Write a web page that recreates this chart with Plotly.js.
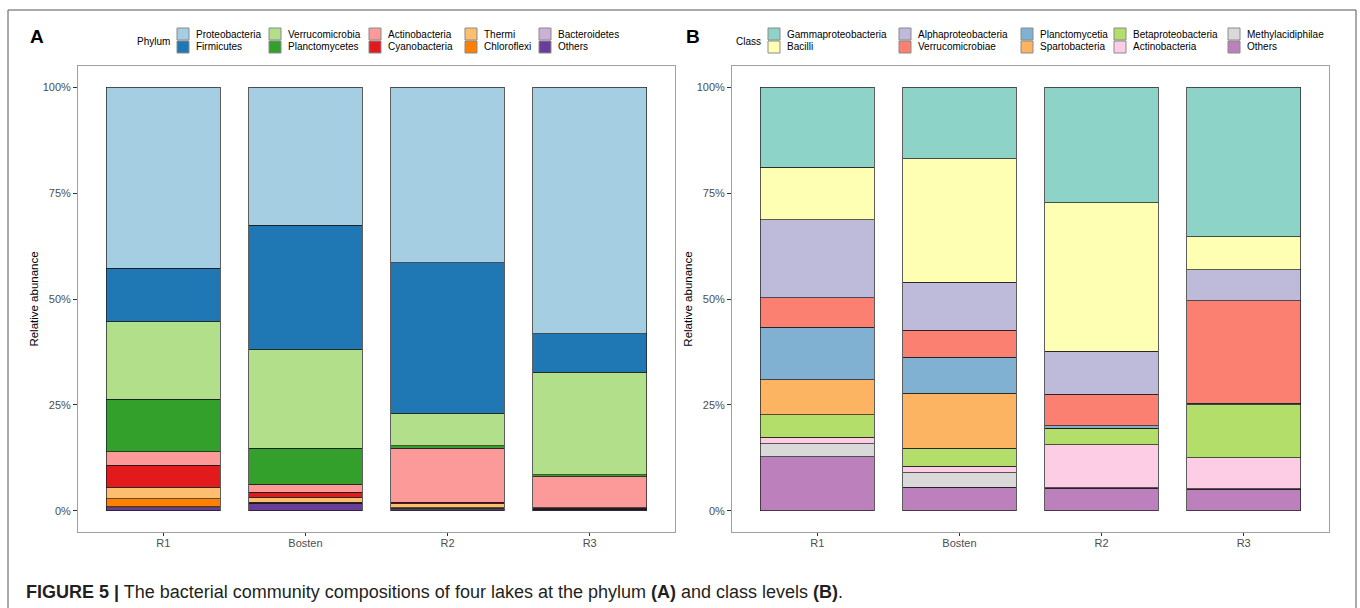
<!DOCTYPE html>
<html><head><meta charset="utf-8">
<script src="https://cdn.plot.ly/plotly-3.0.1.min.js"></script>
<style>html,body{margin:0;padding:0;background:#fff}#chart{width:1360px;height:608px}</style>
</head><body><div id="chart"></div>
<script>
// ---------- data ----------
const groups = ['R1', 'Bosten', 'R2', 'R3'];

// Panel A: phylum level (% relative abundance), order R1, Bosten, R2, R3
const phylumNames = ['Proteobacteria', 'Firmicutes', 'Verrucomicrobia', 'Planctomycetes', 'Actinobacteria',
  'Cyanobacteria', 'Thermi', 'Chloroflexi', 'Bacteroidetes', 'Others'];
const proteobacteria  = [42.70, 32.60, 41.41, 58.23];
const firmicutes      = [12.50, 29.30, 35.60, 9.10];
const verrucomicrobia = [18.40, 23.35, 7.60, 24.20];
const planctomycetes  = [12.50, 8.50, 0.64, 0.47];
const actinobacteria  = [3.16, 1.89, 12.70, 7.30];
const cyanobacteria   = [5.19, 1.18, 0.35, 0.10];
const thermi          = [2.74, 1.18, 0.95, 0.15];
const chloroflexi     = [1.89, 0.25, 0.20, 0.10];
const bacteroidetes   = [0.15, 0.10, 0.30, 0.10];
const phylumOthers    = [0.76, 1.65, 0.25, 0.25];
const phylumValues = [proteobacteria, firmicutes, verrucomicrobia, planctomycetes, actinobacteria,
  cyanobacteria, thermi, chloroflexi, bacteroidetes, phylumOthers];
const phylumColors = ['#A6CEE3', '#1F78B4', '#B2DF8A', '#33A02C', '#FB9A99',
  '#E31A1C', '#FDBF6F', '#FF7F00', '#CAB2D6', '#6A3D9A'];

// Panel B: class level (% relative abundance)
const classNames = ['Gammaproteobacteria', 'Bacilli', 'Alphaproteobacteria', 'Verrucomicrobiae', 'Planctomycetia',
  'Spartobacteria', 'Betaproteobacteria', 'Actinobacteria', 'Methylacidiphilae', 'Others'];
const gammaproteobacteria = [18.87, 16.91, 27.30, 35.35];
const bacilli             = [12.43, 29.15, 35.07, 7.71];
const alphaproteobacteria = [18.47, 11.32, 10.09, 7.31];
const verrucomicrobiae    = [6.91, 6.37, 7.50, 24.22];
const planctomycetia      = [12.43, 8.49, 0.60, 0.38];
const spartobacteria      = [8.25, 12.97, 0.10, 0.05];
const betaproteobacteria  = [5.26, 4.25, 3.77, 12.50];
const actinobacteriaCls   = [1.51, 1.58, 10.14, 7.31];
const methylacidiphilae   = [3.07, 3.37, 0.10, 0.05];
const classOthers         = [12.81, 5.59, 5.35, 5.12];
const classValues = [gammaproteobacteria, bacilli, alphaproteobacteria, verrucomicrobiae, planctomycetia,
  spartobacteria, betaproteobacteria, actinobacteriaCls, methylacidiphilae, classOthers];
const classColors = ['#8DD3C7', '#FFFFB3', '#BEBADA', '#FB8072', '#80B1D3',
  '#FDB462', '#B3DE69', '#FCCDE5', '#D9D9D9', '#BC80BD'];

const yTickVals = [0, 0.25, 0.5, 0.75, 1];
const yTickText = ['0%', '25%', '50%', '75%', '100%'];

// ---------- layout helpers ----------
const W = 1360, H = 608;
const px = x => x / W;
const py = y => 1 - y / H;
const FONT = 'Liberation Sans, Arial, Helvetica, sans-serif';
const TICKGREY = '#4D4D4D';

const traces = [];
const layout = {
  template: {},
  width: W, height: H,
  margin: {l: 0, r: 0, t: 0, b: 0},
  paper_bgcolor: '#fff', plot_bgcolor: '#fff',
  barmode: 'stack', bargap: 0.2,
  font: {family: FONT, size: 11, color: '#000'},
  showlegend: false,
  annotations: [], shapes: []
};

// legend key columns (left edge of key, px) and row centres
const legendColsA = [177, 269, 369, 465, 539];
const legendColsB = [768, 899, 1021, 1114, 1228];
const legendRows = [34, 47];
const KEY = 12;

function panel(names, values, colors, xa, ya, cols) {
  // ggplot stacks first level on top -> add in reverse order
  for (let i = names.length - 1; i >= 0; i--) {
    traces.push({
      type: 'bar', x: groups, y: values[i].map(v => v / 100), name: names[i],
      xaxis: xa, yaxis: ya,
      marker: {color: colors[i], line: {color: '#1a1a1a', width: 0.7}},
      hovertemplate: '%{x}: %{y:.1%}<extra>' + names[i] + '</extra>'
    });
  }
  // legend: 2 rows, filled column by column
  names.forEach((n, i) => {
    const c = Math.floor(i / 2), r = i % 2;
    const x0 = cols[c], yc = legendRows[r];
    layout.shapes.push({type: 'rect', xref: 'paper', yref: 'paper',
      x0: px(x0), x1: px(x0 + KEY), y0: py(yc + KEY / 2), y1: py(yc - KEY / 2),
      fillcolor: colors[i], line: {color: '#8a8a8a', width: 1}});
    layout.annotations.push({xref: 'paper', yref: 'paper', x: px(x0 + 17), y: py(yc),
      xanchor: 'left', yanchor: 'middle', showarrow: false, text: n,
      font: {family: FONT, size: 10, color: '#000'}});
  });
}

panel(phylumNames, phylumValues, phylumColors, 'x', 'y', legendColsA);
panel(classNames, classValues, classColors, 'x2', 'y2', legendColsB);

function xaxis(l, r, anchor) {
  return {
    domain: [px(l), px(r)], anchor: anchor, type: 'category', range: [-0.6, 3.6],
    color: TICKGREY,
    showline: true, mirror: true, linecolor: '#A0A0A0', linewidth: 1,
    ticks: 'outside', ticklen: 3, tickcolor: '#333', tickwidth: 1, ticklabelstandoff: -2,
    tickfont: {family: FONT, size: 11, color: TICKGREY},
    showgrid: false, zeroline: false, fixedrange: true
  };
}
function yaxis(anchor) {
  return {
    domain: [py(532), py(66)], anchor: anchor, range: [-0.05, 1.05],
    color: TICKGREY,
    tickmode: 'array', tickvals: yTickVals, ticktext: yTickText,
    showline: true, mirror: true, linecolor: '#A0A0A0', linewidth: 1,
    ticks: 'outside', ticklen: 4, tickcolor: '#333', tickwidth: 1,
    tickfont: {family: FONT, size: 11, color: TICKGREY},
    showgrid: false, zeroline: false, fixedrange: true,
    title: {text: 'Relative abunance', font: {family: FONT, size: 11.5, color: '#000'}, standoff: 1}
  };
}
layout.xaxis = xaxis(78, 675, 'y');
layout.yaxis = yaxis('x');
layout.xaxis2 = xaxis(732, 1329, 'y2');
layout.yaxis2 = yaxis('x2');

// panel letters, legend titles, caption
layout.annotations.push(
  {xref: 'paper', yref: 'paper', x: px(37), y: py(37), text: '<b>A</b>', showarrow: false,
   font: {family: FONT, size: 19, color: '#000'}, xanchor: 'center', yanchor: 'middle'},
  {xref: 'paper', yref: 'paper', x: px(693), y: py(37), text: '<b>B</b>', showarrow: false,
   font: {family: FONT, size: 19, color: '#000'}, xanchor: 'center', yanchor: 'middle'},
  {xref: 'paper', yref: 'paper', x: px(172), y: py(41), text: 'Phylum', showarrow: false,
   font: {family: FONT, size: 10, color: '#000'}, xanchor: 'right', yanchor: 'middle'},
  {xref: 'paper', yref: 'paper', x: px(763), y: py(41), text: 'Class', showarrow: false,
   font: {family: FONT, size: 10, color: '#000'}, xanchor: 'right', yanchor: 'middle'},
  {xref: 'paper', yref: 'paper', x: px(24), y: py(592), xanchor: 'left', yanchor: 'middle', showarrow: false,
   text: '<b>FIGURE 5 |</b> The bacterial community compositions of four lakes at the phylum <b>(A)</b> and class levels <b>(B)</b>.',
   font: {family: FONT, size: 18, color: '#231F20'}}
);
layout.shapes.push({type: 'rect', xref: 'paper', yref: 'paper', x0: px(8), x1: px(1356), y0: py(10), y1: py(640),
  line: {color: '#555', width: 1}, fillcolor: 'rgba(0,0,0,0)', layer: 'below'});

Plotly.newPlot('chart', traces, layout, {displayModeBar: false, staticPlot: true});
</script></body></html>
